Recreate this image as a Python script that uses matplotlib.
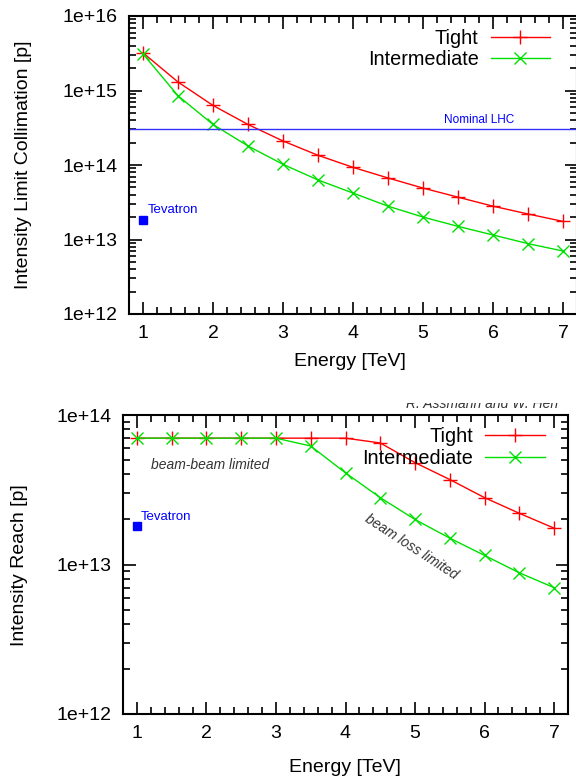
import math
import matplotlib
matplotlib.use("Agg")
import matplotlib.pyplot as plt
from matplotlib.patches import Rectangle
from matplotlib.ticker import (MultipleLocator, LogLocator, NullFormatter,
                               FuncFormatter)

plt.rcParams["font.family"] = ["Liberation Sans", "DejaVu Sans"]

# energies [TeV]
energy = [1.0, 1.5, 2.0, 2.5, 3.0, 3.5, 4.0, 4.5, 5.0, 5.5, 6.0, 6.5, 7.0]

# upper panel: intensity limit from collimation [p]
coll_tight = [3.2e15, 1.3e15, 6.3e14, 3.5e14, 2.1e14, 1.35e14, 9.3e13,
              6.7e13, 4.9e13, 3.7e13, 2.8e13, 2.2e13, 1.75e13]
coll_inter = [3.1e15, 8.5e14, 3.5e14, 1.8e14, 1.02e14, 6.3e13, 4.2e13,
              2.8e13, 2.0e13, 1.5e13, 1.15e13, 8.8e12, 7.0e12]

# lower panel: intensity reach [p]
reach_tight = [7e13, 7e13, 7e13, 7e13, 7e13, 7e13, 7e13,
               6.5e13, 4.8e13, 3.7e13, 2.8e13, 2.2e13, 1.75e13]
reach_inter = [7e13, 7e13, 7e13, 7e13, 7e13, 6.2e13, 4.1e13,
               2.8e13, 2.0e13, 1.5e13, 1.15e13, 8.8e12, 7.0e12]

nominal_lhc = 3.0e14
tevatron_e = 1.0
tevatron_i = 1.8e13

W, H = 576, 780
RED, GREEN, BLUE = "#ff0000", "#00e000", "#0000ff"

fig = plt.figure(figsize=(W / 100, H / 100), dpi=100)


def px_axes(left, right, top, bottom):
    return fig.add_axes([left / W, 1 - bottom / H, (right - left) / W,
                         (bottom - top) / H])


def style(ax):
    ax.set_yscale("log")
    ax.set_xlim(0.8, 7.2)
    ax.xaxis.set_major_locator(MultipleLocator(1))
    ax.xaxis.set_minor_locator(MultipleLocator(0.2))
    ax.yaxis.set_minor_locator(LogLocator(base=10, subs=range(2, 10)))
    ax.yaxis.set_minor_formatter(NullFormatter())
    ax.yaxis.set_major_formatter(
        FuncFormatter(lambda v, p: "1e+%d" % round(math.log10(v))))
    ax.tick_params(which="both", direction="in", top=True, right=True,
                   labelsize=14, width=1.2)
    ax.tick_params(which="major", length=9, pad=8)
    ax.tick_params(which="minor", length=5)
    for s in ax.spines.values():
        s.set_linewidth(1.5)


def plot_pair(ax, yt, yi, bbox, spacing):
    ax.plot(energy, yt, color=RED, lw=1, marker="+", ms=9.5, mew=1,
            label="Tight")
    ax.plot(energy, yi, color=GREEN, lw=1, marker="x", ms=8.5, mew=1,
            label="Intermediate")
    ax.legend(loc="upper right", bbox_to_anchor=bbox, frameon=False,
              markerfirst=False, fontsize=14.3, handlelength=3.0,
              handletextpad=0.6, borderpad=0, borderaxespad=0,
              labelspacing=spacing)


# ---- upper panel ----
ax1 = px_axes(129, 577, 16, 314)
style(ax1)
ax1.set_ylim(1e12, 1e16)
plot_pair(ax1, coll_tight, coll_inter, (0.94, 0.958), 0.1)
ax1.axhline(nominal_lhc, color="#3030ff", lw=1)
ax1.text(5.8, nominal_lhc * 1.12, "Nominal LHC", color=BLUE, fontsize=8.5,
         ha="center", va="bottom")
ax1.plot([tevatron_e], [tevatron_i], "s", color=BLUE, ms=6)
ax1.text(tevatron_e + 0.07, tevatron_i * 1.15, "Tevatron", color=BLUE,
         fontsize=9.5, ha="left", va="bottom")
fig.text(350 / W, 1 - 362 / H, "Energy [TeV]", fontsize=14,
         ha="center", va="center")
fig.text(24 / W, 1 - 165 / H, "Intensity Limit Collimation [p]",
         fontsize=14, rotation=90, ha="center", va="center")

# ---- lower panel ----
ax2 = px_axes(123, 568, 415, 714)
style(ax2)
ax2.set_ylim(1e12, 1e14)
plot_pair(ax2, reach_tight, reach_inter, (0.948, 0.96), 0.15)
ax2.plot([tevatron_e], [tevatron_i], "s", color=BLUE, ms=6)
ax2.text(tevatron_e + 0.05, tevatron_i * 1.06, "Tevatron", color=BLUE,
         fontsize=9.5, ha="left", va="bottom")
ax2.text(1.2, 4.6e13, "beam-beam limited", fontsize=10, style="italic",
         color="#333333", ha="left", va="center")
ax2.text(4.94, 1.32e13, "beam loss limited", fontsize=10, style="italic",
         color="#333333", ha="center", va="center", rotation=-33)
fig.text(345 / W, 1 - 768 / H, "Energy [TeV]", fontsize=14,
         ha="center", va="center")
fig.text(20 / W, 1 - 565 / H, "Intensity Reach [p]",
         fontsize=14, rotation=90, ha="center", va="center")

# author credit, top half cut off by the image seam
fig.text(560 / W, 1 - 408 / H, "R. Assmann and W. Herr", fontsize=10,
         style="italic", color="#333333", ha="right", va="baseline")
fig.add_artist(Rectangle((300 / W, 1 - 402.5 / H), 276 / W, 20 / H,
                         transform=fig.transFigure, facecolor="white",
                         edgecolor="none", zorder=10))

fig.savefig("out.png", dpi=100)
